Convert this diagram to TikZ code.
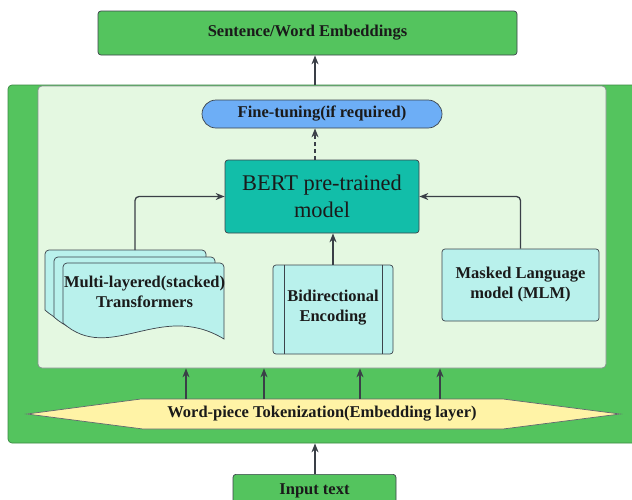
\documentclass[tikz,border=0pt]{standalone}
\usepackage{fontspec}
\setmainfont{Liberation Serif}
\usetikzlibrary{arrows.meta}
\definecolor{dgreen}{HTML}{54C45E}
\definecolor{pgreen}{HTML}{E4F8E1}
\definecolor{fblue}{HTML}{6DAEF6}
\definecolor{teal}{HTML}{12BEA9}
\definecolor{cyanbox}{HTML}{B9F1EC}
\definecolor{tyellow}{HTML}{FFF3A6}
\definecolor{edge}{HTML}{3C434B}
\definecolor{arrowc}{HTML}{3A3F47}
\definecolor{txt}{HTML}{1A1A1A}
\newcommand\lblfont{\fontsize{16.5}{20}\selectfont\bfseries}
\newcommand\bertfont{\fontsize{22.4}{27}\selectfont}
\tikzset{
  box/.style={draw=edge, line width=0.7pt, rounded corners=3pt, inner sep=0pt,
    align=center, font=\lblfont, text=txt},
  arr/.style={-{Stealth[length=9pt,width=7pt]}, line width=1.3pt, draw=arrowc},
  docshape/.style={draw=edge, line width=0.7pt, fill=cyanbox}
}
\begin{document}
\begin{tikzpicture}[x=1pt,y=-1pt]
\clip (0,0) rectangle (632,499);
\fill[white] (0,0) rectangle (632,499);

% outer green frame
\node[box, fill=dgreen, draw=dgreen!70!black, minimum width=632pt, minimum height=358pt,
  rounded corners=4pt] (outer) at (324,264) {};
% inner pale area
\node[box, fill=pgreen, draw=edge!60, minimum width=568pt, minimum height=282pt,
  rounded corners=4pt] (inner) at (322,227) {};

% top box
\node[box, fill=dgreen, minimum width=419pt, minimum height=44pt] (top) at (307.5,33)
  {Sentence/Word Embeddings};

% fine-tuning capsule
\node[box, fill=fblue, minimum width=240pt, minimum height=28pt, rounded corners=14pt]
  (fine) at (322,114) {Fine-tuning(if required)};

% BERT
\node[box, fill=teal, minimum width=194pt, minimum height=73pt, font=\bertfont]
  (bert) at (322,196.5) {BERT pre-trained\\model};

% multi-document shape
\foreach \dx/\dy in {45/250, 54/257, 63/263}{
  \begin{scope}[shift={(\dx,\dy)}]
    \path[docshape] (0,60) [rounded corners=4pt]-- (0,0) -- (161,0) [sharp corners]-- (161,76)
      .. controls (97,37) and (47,102) .. (0,60) -- cycle;
  \end{scope}
}
\node[font=\lblfont, text=txt, align=center, inner sep=0pt] (multi) at (144.5,292)
  {Multi-layered(stacked)\\Transformers};
\coordinate (mtop) at (135,250);

% bidirectional (predefined process)
\node[box, fill=cyanbox, minimum width=120pt, minimum height=89pt] (bidir) at (333,309.5) {};
\draw[draw=edge, line width=0.7pt] ([xshift=12pt]bidir.north west) -- ([xshift=12pt]bidir.south west);
\draw[draw=edge, line width=0.7pt] ([xshift=-11pt]bidir.north east) -- ([xshift=-11pt]bidir.south east);
\node[font=\lblfont, text=txt, align=center, inner sep=0pt] (bidirtxt) at (333,307.5)
  {Bidirectional\\Encoding};

% masked LM
\node[box, fill=cyanbox, minimum width=157pt, minimum height=72pt] (masked) at (520.5,285)
  {Masked Language\\model (MLM)};

% tokenization hexagon
\path[draw=edge!80, line width=0.7pt, fill=tyellow]
  (27,414) -- (141,399) -- (503,399) -- (620,414) -- (503,429) -- (143,429) -- cycle;
\node[font=\lblfont, text=txt, inner sep=0pt] (tok) at (322,414)
  {Word-piece Tokenization(Embedding layer)};

% input text
\node[box, fill=dgreen, minimum width=163pt, minimum height=44pt, anchor=north]
  (input) at (314.5,474) {};
\node[font=\lblfont, text=txt, inner sep=0pt] (inputtxt) at (314.5,491) {Input text};

% connectors
\coordinate (oa) at (315,85);
\draw[arr] (oa) -- (oa |- top.south);
\coordinate (bt) at (315,160);
\draw[arr, dashed, dash pattern=on 4pt off 3pt] (bt) -- (bt |- fine.south);
\draw[arr, rounded corners=4pt] (mtop) |- (bert.west);
\draw[arr, rounded corners=4pt] (masked.north) |- (bert.east);
\draw[arr] (bidir.north) -- (bidir.north |- bert.south);
\foreach \x [count=\i] in {186,264,360,440}{
  \coordinate (h\i) at (\x,399);
  \draw[arr] (h\i) -- (h\i |- inner.south);
}
\coordinate (ia) at (315,474);
\draw[arr] (ia) -- (ia |- outer.south);
\end{tikzpicture}
\end{document}
